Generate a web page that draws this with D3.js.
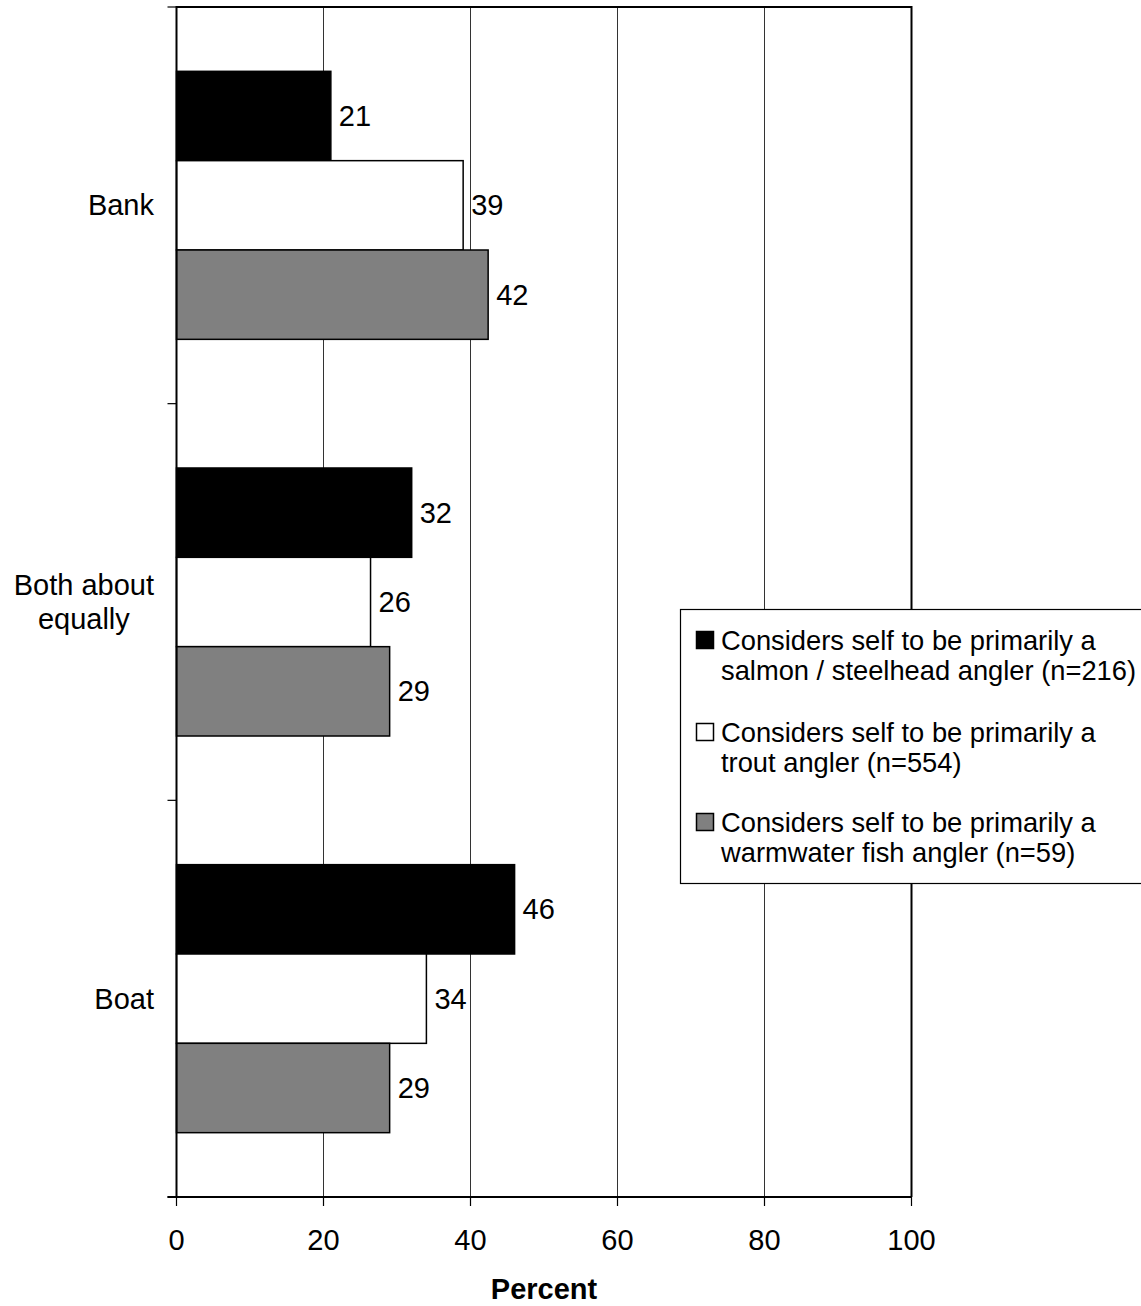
<!DOCTYPE html>
<html><head><meta charset="utf-8">
<script src="https://cdn.jsdelivr.net/npm/d3@7"></script>
<style>body{margin:0;background:#fff;} svg{display:block;font-family:"Liberation Sans",Arial,sans-serif;}</style>
</head><body>
<script>
const categories = ["Bank", "Both about equally", "Boat"];
const categoryLines = [["Bank"], ["Both about", "equally"], ["Boat"]];
const seriesNames = [
  ["Considers self to be primarily a", "salmon / steelhead angler (n=216)"],
  ["Considers self to be primarily a", "trout angler (n=554)"],
  ["Considers self to be primarily a", "warmwater fish angler (n=59)"]
];
const salmon = [21, 32, 46];
const trout = [39, 26.4, 34];
const warmwater = [42.4, 29, 29];
const xTicks = [0, 20, 40, 60, 80, 100];
const colors = ["#000000", "#ffffff", "#808080"];
const seriesValues = [salmon, trout, warmwater];

const W = 1141, H = 1306;
const svg = d3.select("body").append("svg").attr("width", W).attr("height", H);
const L = 176.5, R = 911.5, T = 7, B = 1197;
const FS = 29;

const x = d3.scaleLinear().domain([0, 100]).range([L, R]);
const y = d3.scaleBand().domain(categories).range([T, B]).padding(0);
const ys = d3.scaleBand().domain([0, 1, 2]).range([0, y.bandwidth()]).paddingInner(0).paddingOuter(0.72);

// gridlines
svg.append("g").selectAll("line").data(xTicks.filter(d => d > 0 && d < 100)).join("line")
  .attr("x1", d => x(d)).attr("x2", d => x(d)).attr("y1", T).attr("y2", B)
  .attr("stroke", "#333").attr("stroke-width", 1);

// bars
const fmt = d3.format(".0f");
seriesValues.forEach((vals, si) => {
  const g = svg.append("g");
  g.selectAll("rect").data(vals).join("rect")
    .attr("x", x(0)).attr("y", (d, i) => y(categories[i]) + ys(si))
    .attr("width", d => x(d) - x(0)).attr("height", ys.bandwidth())
    .attr("fill", colors[si]).attr("stroke", "#000").attr("stroke-width", 1.5);
  g.selectAll("text").data(vals).join("text")
    .attr("x", d => x(d) + 8).attr("y", (d, i) => y(categories[i]) + ys(si) + ys.bandwidth() / 2)
    .attr("dy", "0.35em").attr("font-size", FS).attr("fill", "#000")
    .text(d => fmt(d));
});

// border top & right
svg.append("path").attr("d", `M${L},${T}H${R}V${B}`).attr("fill", "none").attr("stroke", "#000").attr("stroke-width", 2);

// y axis
const yAxisG = svg.append("g");
yAxisG.append("line").attr("x1", L).attr("x2", L).attr("y1", T - 1).attr("y2", B + 1).attr("stroke", "#000").attr("stroke-width", 2);
const yTickPos = categories.map(c => y(c)).concat([B]);
yAxisG.selectAll("line.t").data(yTickPos).join("line").attr("class", "t")
  .attr("x1", L - 9).attr("x2", L).attr("y1", d => d).attr("y2", d => d).attr("stroke", "#000").attr("stroke-width", 1.2);

// category labels, block right-aligned, lines centered
categories.forEach((c, i) => {
  const lines = categoryLines[i];
  const cy = y(c) + y.bandwidth() / 2;
  const lh = 34;
  const t = svg.append("text").attr("font-size", FS).attr("fill", "#000").attr("text-anchor", "middle");
  const spans = lines.map((ln, k) => t.append("tspan").attr("y", cy + (k - (lines.length - 1) / 2) * lh).attr("dy", "0.35em").text(ln));
  const maxW = d3.max(spans, s => s.node().getComputedTextLength());
  spans.forEach(s => s.attr("x", 154 - maxW / 2));
});

// x axis
const xAxisG = svg.append("g");
xAxisG.append("line").attr("x1", L - 9).attr("x2", R).attr("y1", B).attr("y2", B).attr("stroke", "#000").attr("stroke-width", 2);
xAxisG.selectAll("line.t").data(xTicks).join("line").attr("class", "t")
  .attr("x1", d => x(d)).attr("x2", d => x(d)).attr("y1", B).attr("y2", B + 9).attr("stroke", "#000").attr("stroke-width", 1.2);
xAxisG.selectAll("text").data(xTicks).join("text")
  .attr("x", d => x(d)).attr("y", 1250).attr("text-anchor", "middle").attr("font-size", FS).text(d => d);

svg.append("text").attr("x", (L + R) / 2).attr("y", 1299).attr("text-anchor", "middle")
  .attr("font-size", FS).attr("font-weight", "bold").text("Percent");

// legend
const lg = svg.append("g");
lg.append("rect").attr("x", 680.5).attr("y", 609.5).attr("width", 470).attr("height", 274)
  .attr("fill", "#fff").attr("stroke", "#000").attr("stroke-width", 1.2);
const entryY = [650, 742, 832];
seriesNames.forEach((lines, i) => {
  lg.append("rect").attr("x", 696.5).attr("y", entryY[i] - 18.5).attr("width", 17).attr("height", 17)
    .attr("fill", colors[i]).attr("stroke", "#000").attr("stroke-width", 1.5);
  lines.forEach((ln, k) => {
    lg.append("text").attr("x", 721).attr("y", entryY[i] + k * 30).attr("font-size", 27.3).text(ln);
  });
});
</script>
</body></html>
